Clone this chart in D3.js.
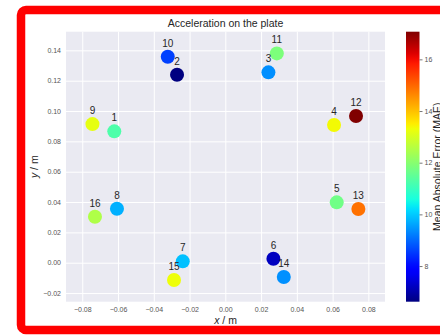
<!DOCTYPE html>
<html>
<head>
<meta charset="utf-8">
<script src="https://cdn.jsdelivr.net/npm/d3@7"></script>
<style>
  html, body { margin: 0; padding: 0; background: #fff; }
  svg { display: block; font-family: "Liberation Sans", Arial, sans-serif; }
</style>
</head>
<body>
<svg id="chart" width="440" height="335"></svg>
<script>
// Sensor positions on the plate and their mean absolute error
const sensorIds = [1, 2, 3, 4, 5, 6, 7, 8, 9, 10, 11, 12, 13, 14, 15, 16];
const sensorX = [-0.0621, -0.0270, 0.0241, 0.0608, 0.0623, 0.0269, -0.0238, -0.0606,
                 -0.0743, -0.0322, 0.0288, 0.0731, 0.0744, 0.0327, -0.0287, -0.0729];
const sensorY = [0.0866, 0.1239, 0.1255, 0.0908, 0.0398, 0.0026, 0.0009, 0.0356,
                 0.0914, 0.1358, 0.1380, 0.0967, 0.0354, -0.0094, -0.0114, 0.0303];
const maeValues = [11.25, 6.62, 9.39, 13.36, 11.70, 7.20, 9.89, 9.73,
                   13.20, 8.58, 11.85, 17.07, 14.88, 9.40, 13.30, 12.50];

const xTicks = [-0.08, -0.06, -0.04, -0.02, 0.00, 0.02, 0.04, 0.06, 0.08];
const yTicks = [-0.02, 0.00, 0.02, 0.04, 0.06, 0.08, 0.10, 0.12, 0.14];
const cbTicks = [8, 10, 12, 14, 16];

// matplotlib "jet" segment data
const jetSeg = {
  r: [[0, 0], [0.35, 0], [0.66, 1], [0.89, 1], [1, 0.5]],
  g: [[0, 0], [0.125, 0], [0.375, 1], [0.64, 1], [0.91, 0], [1, 0]],
  b: [[0, 0.5], [0.11, 1], [0.34, 1], [0.65, 0], [1, 0]]
};
function seg(pts, t) {
  for (let i = 1; i < pts.length; i++) {
    if (t <= pts[i][0]) {
      const [x0, y0] = pts[i - 1], [x1, y1] = pts[i];
      return y0 + (y1 - y0) * (t - x0) / (x1 - x0);
    }
  }
  return pts[pts.length - 1][1];
}
function jet(t) {
  t = Math.max(0, Math.min(1, t));
  return d3.rgb(seg(jetSeg.r, t) * 255, seg(jetSeg.g, t) * 255, seg(jetSeg.b, t) * 255).toString();
}

const svg = d3.select("#chart");

// outer red frame
svg.append("rect")
  .attr("x", 21).attr("y", 10).attr("width", 440).attr("height", 320)
  .attr("rx", 5)
  .attr("fill", "#fff").attr("stroke", "#ff0000").attr("stroke-width", 8.5);

const plot = { left: 66, right: 385, top: 31.7, bottom: 301.7 };

const x = d3.scaleLinear().domain([-0.0891, 0.0893]).range([plot.left, plot.right]);
const y = d3.scaleLinear().domain([-0.0257, 0.1523]).range([plot.bottom, plot.top]);
const cmin = d3.min(maeValues), cmax = d3.max(maeValues);
const norm = d3.scaleLinear().domain([cmin, cmax]).range([0, 1]);

// plot background
svg.append("rect")
  .attr("x", plot.left).attr("y", plot.top)
  .attr("width", plot.right - plot.left).attr("height", plot.bottom - plot.top)
  .attr("fill", "#eaeaf2");

// grid lines + tick labels via axes
const xAxis = d3.axisBottom(x).tickValues(xTicks).tickFormat(d3.format(".2f"))
  .tickSize(-(plot.bottom - plot.top)).tickPadding(5);
const yAxis = d3.axisLeft(y).tickValues(yTicks).tickFormat(d3.format(".2f"))
  .tickSize(-(plot.right - plot.left)).tickPadding(5);

const gx = svg.append("g").attr("transform", `translate(0,${plot.bottom})`).call(xAxis);
const gy = svg.append("g").attr("transform", `translate(${plot.left},0)`).call(yAxis);
[gx, gy].forEach(g => {
  g.select(".domain").remove();
  g.selectAll(".tick line").attr("stroke", "#fff").attr("stroke-width", 1);
  g.selectAll(".tick text").attr("fill", "#555").attr("font-size", 7)
    .attr("font-family", "'Liberation Sans', Arial, sans-serif");
});
gx.selectAll(".tick text").text(d => d3.format(".2f")(d).replace("-", "\u2212"));
gy.selectAll(".tick text").text(d => d3.format(".2f")(d).replace("-", "\u2212"));

// scatter markers
const pts = sensorIds.map((id, i) => ({ id, x: sensorX[i], y: sensorY[i], v: maeValues[i] }));
svg.append("g").selectAll("circle").data(pts).join("circle")
  .attr("cx", d => x(d.x)).attr("cy", d => y(d.y)).attr("r", 7)
  .attr("fill", d => jet(norm(d.v)));

// sensor number labels
svg.append("g").selectAll("text").data(pts).join("text")
  .attr("x", d => x(d.x)).attr("y", d => y(d.y) - 10)
  .attr("text-anchor", "middle").attr("font-size", 10).attr("fill", "#262626")
  .text(d => d.id);

// title
svg.append("text").attr("x", (plot.left + plot.right) / 2).attr("y", 27)
  .attr("text-anchor", "middle").attr("font-size", 10.5).attr("fill", "#262626")
  .text("Acceleration on the plate");

// axis labels
const xl = svg.append("text").attr("x", (plot.left + plot.right) / 2).attr("y", 324)
  .attr("text-anchor", "middle").attr("font-size", 10.5).attr("fill", "#262626");
xl.append("tspan").attr("font-style", "italic").text("x");
xl.append("tspan").text(" / m");

const yl = svg.append("text")
  .attr("transform", `translate(38,${(plot.top + plot.bottom) / 2}) rotate(-90)`)
  .attr("text-anchor", "middle").attr("font-size", 10.5).attr("fill", "#262626");
yl.append("tspan").attr("font-style", "italic").text("y");
yl.append("tspan").text(" / m");

// colour bar
const cb = { x: 406, w: 13.5 };
const c = d3.scaleLinear().domain([cmin, cmax]).range([plot.bottom, plot.top]);
const defs = svg.append("defs");
const grad = defs.append("linearGradient").attr("id", "jetGrad")
  .attr("x1", 0).attr("y1", 1).attr("x2", 0).attr("y2", 0);
d3.range(0, 1.0001, 0.02).forEach(t => {
  grad.append("stop").attr("offset", t).attr("stop-color", jet(t));
});
svg.append("rect").attr("x", cb.x).attr("y", plot.top)
  .attr("width", cb.w).attr("height", plot.bottom - plot.top)
  .attr("fill", "url(#jetGrad)");

const cAxis = d3.axisRight(c).tickValues(cbTicks).tickSize(3).tickPadding(2);
const gc = svg.append("g").attr("transform", `translate(${cb.x + cb.w},0)`).call(cAxis);
gc.select(".domain").remove();
gc.selectAll(".tick line").attr("stroke", "#555").attr("stroke-width", 0.8);
gc.selectAll(".tick text").attr("fill", "#555").attr("font-size", 7)
  .attr("font-family", "'Liberation Sans', Arial, sans-serif");

svg.append("text")
  .attr("transform", `translate(441,${(plot.top + plot.bottom) / 2}) rotate(-90)`)
  .attr("text-anchor", "middle").attr("font-size", 10.5).attr("fill", "#262626")
  .text("Mean Absolute Error (MAE)");
</script>
</body>
</html>
